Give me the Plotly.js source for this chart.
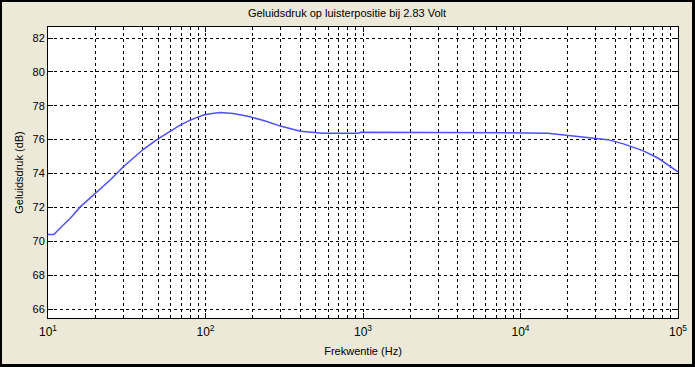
<!DOCTYPE html>
<html>
<head>
<meta charset="utf-8">
<script src="https://cdn.plot.ly/plotly-3.0.1.min.js"></script>
<style>
  html, body { margin: 0; padding: 0; background: #000; width: 695px; height: 367px; overflow: hidden; }
  #chart { position: absolute; left: 2px; top: 2px; width: 690px; height: 362px; }
</style>
</head>
<body>
<div id="chart"></div>
<script>
// Frequency (Hz) and sound pressure (dB)
const freq = [10, 10.9, 12, 14, 15.9, 18, 19.9, 25, 30.1, 40, 49.1, 60, 69, 80, 97, 110, 124, 150, 192, 240, 299, 400, 560, 700, 935, 960, 1500, 3000, 6000, 8280, 14900, 19900, 28000, 35800, 45000, 59800, 75000, 100000];
const spl  = [70.4, 70.4, 70.8, 71.4, 72.0, 72.45, 72.77, 73.65, 74.4, 75.4, 76.0, 76.5, 76.86, 77.15, 77.45, 77.55, 77.6, 77.55, 77.35, 77.1, 76.8, 76.5, 76.37, 76.37, 76.37, 76.43, 76.43, 76.43, 76.43, 76.4, 76.37, 76.25, 76.12, 76.0, 75.75, 75.35, 74.9, 74.1];

const decadeTicks = [10, 100, 1000, 10000, 100000];
const decadeLabels = ['10<sup>1</sup>', '10<sup>2</sup>', '10<sup>3</sup>', '10<sup>4</sup>', '10<sup>5</sup>'];
const yTicks = [66, 68, 70, 72, 74, 76, 78, 80, 82];

const gridVals = [];
for (let d = 10; d < 100000; d *= 10) {
  for (let m = 2; m <= 9; m++) gridVals.push(d * m);
}

const font = { family: 'Liberation Sans, Arial, sans-serif', color: '#000', size: 11 };

const data = [{
  x: freq, y: spl, type: 'scatter', mode: 'lines',
  line: { color: '#4f4fff', width: 1.5 },
  hoverinfo: 'x+y'
}];

const layout = {
  width: 690, height: 362,
  margin: { l: 46, r: 14, t: 25, b: 46 },
  paper_bgcolor: '#ECE9D8',
  plot_bgcolor: '#ffffff',
  showlegend: false,
  font: font,
  title: { text: 'Geluidsdruk op luisterpositie bij 2.83 Volt', font: { family: font.family, size: 11, color: '#000' }, x: 0.5, xanchor: 'center', y: 0.968, yanchor: 'middle' },
  xaxis: {
    type: 'log', range: [1, 5],
    tickmode: 'array', tickvals: decadeTicks, ticktext: decadeLabels,
    ticks: 'inside', ticklen: 5, tickcolor: '#000', mirror: 'ticks',
    showline: true, linecolor: '#000', linewidth: 1,
    showgrid: true, gridcolor: '#000', gridwidth: 1, griddash: '3px,3px',
    zeroline: false,
    minor: {
      tickmode: 'array', tickvals: gridVals,
      ticks: 'inside', ticklen: 3, tickcolor: '#000',
      showgrid: true, gridcolor: '#000', gridwidth: 1, griddash: '3px,3px'
    },
    tickfont: { family: font.family, size: 12, color: '#000' },
    ticklabelstandoff: 3,
    title: { text: 'Frekwentie (Hz)', font: { family: font.family, size: 11, color: '#000' }, standoff: 8 }
  },
  yaxis: {
    range: [65.47, 82.65],
    tickmode: 'array', tickvals: yTicks,
    ticks: 'inside', ticklen: 5, tickcolor: '#000', mirror: 'ticks',
    showline: true, linecolor: '#000', linewidth: 1,
    showgrid: true, gridcolor: '#000', gridwidth: 1, griddash: '3px,3px',
    zeroline: false,
    tickfont: { family: font.family, size: 11, color: '#000' },
    title: { text: 'Geluidsdruk (dB)', font: { family: font.family, size: 11, color: '#000' }, standoff: 6 }
  }
};

Plotly.newPlot('chart', data, layout, { displayModeBar: false, staticPlot: true });
</script>
</body>
</html>
